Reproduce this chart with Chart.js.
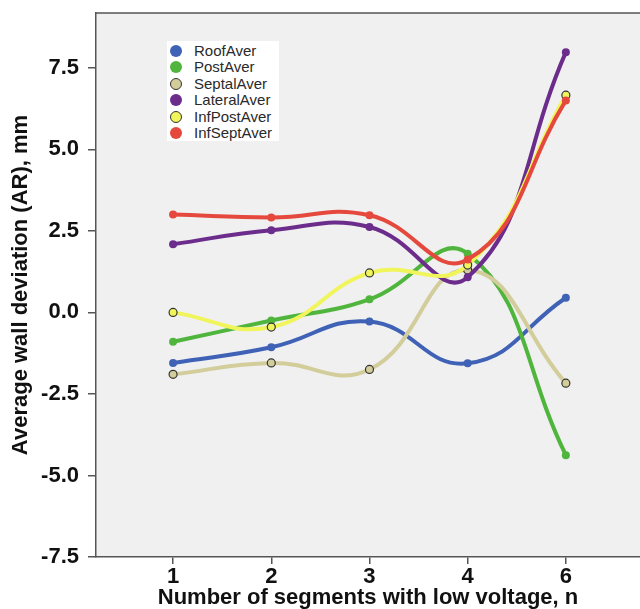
<!DOCTYPE html>
<html>
<head>
<meta charset="utf-8">
<script src="https://cdn.jsdelivr.net/npm/chart.js@4"></script>
<style>
    html, body { margin: 0; padding: 0; background: #ffffff; }
    #wrap { position: relative; width: 640px; height: 609px; }
    #legend {
        position: absolute; left: 167px; top: 41px; width: 112px; height: 100px;
        background: #ffffff; font-family: "Liberation Sans", Arial, sans-serif;
        font-size: 15px; color: #2a2a2a;
    }
    #legend div { position: absolute; left: 0; height: 16px; line-height: 16px; }
    #legend span.dot {
        position: absolute; left: 3px; top: 2px; width: 12px; height: 12px;
        border-radius: 50%; box-sizing: border-box;
    }
    #legend span.lbl { position: absolute; left: 27px; white-space: nowrap; }
</style>
</head>
<body>
<div id="wrap">
    <canvas id="chart" width="640" height="609"></canvas>
    <div id="legend"></div>
</div>
<script>
    // 카테고리 / 눈금
    const categories = ['1', '2', '3', '4', '6'];
    const yTicks = [-7.5, -5.0, -2.5, 0.0, 2.5, 5.0, 7.5];

    // 시리즈 값
    const roofAver = [-1.55, -1.07, -0.28, -1.56, 0.45];
    const postAver = [-0.9, -0.25, 0.4, 1.8, -4.38];
    const septalAver = [-1.9, -1.55, -1.75, 1.3, -2.17];
    const lateralAver = [2.09, 2.52, 2.62, 1.08, 7.98];
    const infPostAver = [0.0, -0.45, 1.21, 1.45, 6.66];
    const infSeptAver = [3.0, 2.91, 2.98, 1.62, 6.5];

    const seriesNames = ['RoofAver', 'PostAver', 'SeptalAver', 'LateralAver', 'InfPostAver', 'InfSeptAver'];
    const seriesData = [roofAver, postAver, septalAver, lateralAver, infPostAver, infSeptAver];
    const seriesColors = ['#3f62b6', '#4fb53c', '#d2cd9a', '#6b2c8c', '#f0f55c', '#e5493d'];
    const ringed = [false, false, true, false, true, false];

    const datasets = seriesData.map(function(vals, i) {
        return {
            label: seriesNames[i],
            data: vals.map(function(v, k) { return { x: k, y: v }; }),
            borderColor: seriesColors[i],
            backgroundColor: seriesColors[i],
            borderWidth: 4,
            pointRadius: 4,
            pointBorderWidth: ringed[i] ? 1.2 : 0,
            pointBorderColor: ringed[i] ? '#333333' : seriesColors[i],
            tension: 0.45,
            order: seriesData.length - i
        };
    });

    // 플롯 배경 + 상단 테두리
    const plotBackground = {
        id: 'plotBackground',
        beforeDraw: function(chart) {
            const a = chart.chartArea;
            const ctx = chart.ctx;
            ctx.save();
            ctx.fillStyle = '#f0f0f0';
            ctx.fillRect(a.left, a.top, a.right - a.left, a.bottom - a.top);
            ctx.strokeStyle = '#555555';
            ctx.lineWidth = 1.5;
            ctx.beginPath();
            ctx.moveTo(a.left, a.top);
            ctx.lineTo(a.right, a.top);
            ctx.stroke();
            ctx.restore();
        }
    };

    // 축 여백 제거
    function noPadding(scale) {
        scale.paddingTop = 0;
        scale.paddingBottom = 0;
        scale.paddingLeft = 0;
        scale.paddingRight = 0;
    }

    const fontFamily = '"Liberation Sans", Arial, sans-serif';
    const tickFont = { family: fontFamily, size: 22, weight: 'bold' };

    new Chart(document.getElementById('chart').getContext('2d'), {
        type: 'line',
        data: { datasets: datasets },
        options: {
            responsive: false,
            animation: false,
            layout: { autoPadding: false, padding: { top: 13, right: 0, left: 0, bottom: 0 } },
            plugins: { legend: { display: false }, tooltip: { enabled: false } },
            scales: {
                x: {
                    type: 'linear',
                    min: -0.785,
                    max: 4.755,
                    afterBuildTicks: function(scale) {
                        scale.ticks = categories.map(function(c, i) { return { value: i }; });
                    },
                    afterFit: function(scale) {
                        scale.height = 52;
                        noPadding(scale);
                    },
                    ticks: {
                        color: '#111111',
                        font: tickFont,
                        padding: 0,
                        maxRotation: 0,
                        callback: function(v) { return categories[v]; }
                    },
                    grid: { drawOnChartArea: false, tickLength: 7, color: '#555555', lineWidth: 1.5 },
                    border: { color: '#555555', width: 1.5 },
                    title: {
                        display: true,
                        text: 'Number of segments with low voltage, n',
                        color: '#111111',
                        font: tickFont,
                        padding: { top: 0, bottom: -2 }
                    }
                },
                y: {
                    min: -7.5,
                    max: 9.18,
                    afterBuildTicks: function(scale) {
                        scale.ticks = yTicks.map(function(v) { return { value: v }; });
                    },
                    afterFit: function(scale) {
                        scale.width = 96;
                        noPadding(scale);
                    },
                    ticks: {
                        color: '#111111',
                        font: tickFont,
                        padding: 9,
                        callback: function(v) { return Number(v).toFixed(1); }
                    },
                    grid: { drawOnChartArea: false, tickLength: 8, color: '#555555', lineWidth: 1.5 },
                    border: { color: '#555555', width: 1.5 },
                    title: {
                        display: true,
                        text: 'Average wall deviation (AR), mm',
                        color: '#111111',
                        font: tickFont,
                        padding: { top: 8, bottom: 0 }
                    }
                }
            }
        },
        plugins: [plotBackground]
    });

    // 범례
    const legend = document.getElementById('legend');
    seriesNames.forEach(function(name, i) {
        const row = document.createElement('div');
        row.style.top = (2 + i * 16.4) + 'px';
        const dot = document.createElement('span');
        dot.className = 'dot';
        dot.style.background = seriesColors[i];
        if (ringed[i]) dot.style.border = '1.5px solid #333333';
        const lbl = document.createElement('span');
        lbl.className = 'lbl';
        lbl.textContent = name;
        row.appendChild(dot);
        row.appendChild(lbl);
        legend.appendChild(row);
    });
</script>
</body>
</html>
